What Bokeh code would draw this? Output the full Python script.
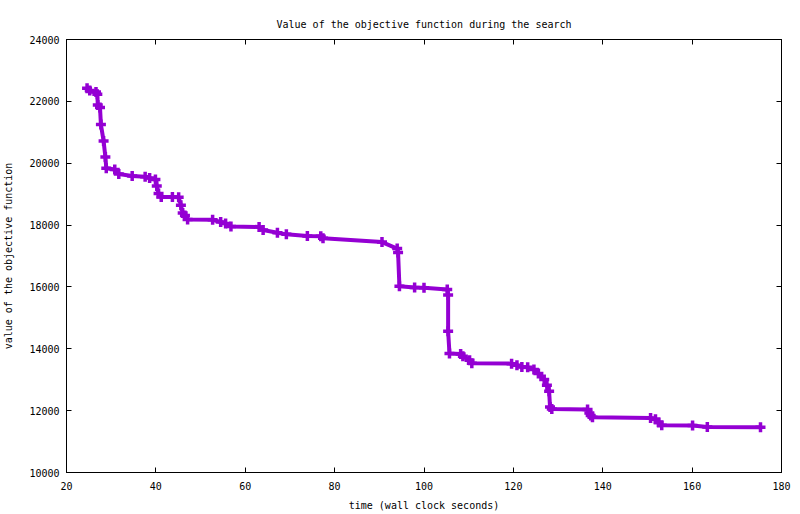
from bokeh.plotting import figure
from bokeh.models import LinearAxis, FixedTicker, Range1d, ColumnDataSource
from bokeh.embed import file_html
from bokeh.resources import INLINE

time_s = [24.6, 25.2, 26.6, 26.9, 27.0, 27.5, 27.7, 28.3, 28.7, 28.9,
          30.8, 31.7, 34.7, 37.6, 38.6, 39.9, 40.2, 40.6, 41.2, 43.7,
          45.1, 45.6, 46.0, 46.5, 47.1, 52.7, 54.5, 55.6, 56.8, 63.1,
          64.0, 67.2, 69.2, 73.9, 76.9, 77.4, 90.6, 94.0, 94.2, 94.5,
          97.9, 100.0, 105.2, 105.4, 105.4, 105.7, 108.2, 108.7, 110.2, 110.7,
          119.6, 120.8, 121.9, 123.2, 124.6, 125.6, 126.9, 127.5, 128.0, 128.2,
          128.6, 136.6, 137.0, 137.3, 137.7, 150.7, 151.8, 152.5, 153.2, 160.1,
          163.4, 175.3]
objective = [22420, 22350, 22300, 22230, 21880, 21800, 21250, 20720, 20200, 19840,
             19800, 19650, 19590, 19560, 19520, 19470, 19260, 19020, 18910, 18910,
             18900, 18640, 18390, 18310, 18180, 18170, 18100, 18050, 17950, 17940,
             17840, 17750, 17700, 17650, 17640, 17570, 17450, 17240, 17110, 16020,
             15980, 15970, 15920, 15740, 14570, 13850, 13830, 13760, 13630, 13530,
             13520, 13470, 13410, 13400, 13330, 13200, 13010, 12820, 12630, 12120,
             12050, 12040, 11920, 11840, 11790, 11760, 11720, 11620, 11530, 11520,
             11470, 11460]
x_ticks = [20, 40, 60, 80, 100, 120, 140, 160, 180]
y_ticks = [10000, 12000, 14000, 16000, 18000, 20000, 22000, 24000]

title_text = "Value of the objective function during the search"
x_label = "time (wall clock seconds)"
y_label = "value of the objective function"

FONT = "DejaVu Sans Mono"
FS = "10px"
COLOR = "#9400D3"

src = ColumnDataSource(dict(x=time_s, y=objective))

p = figure(width=800, height=514, output_backend="svg", toolbar_location=None,
           x_range=Range1d(20, 180), y_range=Range1d(10000, 24000),
           min_border_left=64, min_border_right=19, min_border_top=39,
           min_border_bottom=42, title=title_text)

p.background_fill_color = "white"
p.border_fill_color = "white"
p.outline_line_color = "black"
p.outline_line_width = 1
p.outline_line_alpha = 1
p.grid.visible = False

p.title.text_font = FONT
p.title.text_font_size = FS
p.title.text_font_style = "normal"
p.title.align = "center"
p.title.text_color = "black"
p.title.standoff = 19

def style_axis(ax, ticks, show_labels):
    ax.ticker = FixedTicker(ticks=ticks)
    ax.minor_tick_line_color = None
    ax.major_tick_in = 5
    ax.major_tick_out = 0
    ax.major_tick_line_color = "black"
    ax.axis_line_color = "black"
    ax.major_label_text_font = FONT
    ax.axis_label_text_font = FONT
    ax.axis_label_text_font_size = FS
    ax.axis_label_text_font_style = "normal"
    ax.axis_label_text_color = "black"
    if show_labels:
        ax.major_label_text_font_size = FS
        ax.major_label_text_color = "black"
    else:
        ax.major_label_text_font_size = "1px"
        ax.major_label_text_color = None
        ax.major_label_standoff = 0

xa = p.xaxis[0]
style_axis(xa, x_ticks, True)
xa.axis_label = x_label
xa.major_label_standoff = 9
xa.axis_label_standoff = 7

ya = p.yaxis[0]
style_axis(ya, y_ticks, True)
ya.axis_label = y_label
ya.major_label_standoff = 7
ya.axis_label_standoff = 12

top = LinearAxis()
style_axis(top, x_ticks, False)
p.add_layout(top, "above")
right = LinearAxis()
style_axis(right, y_ticks, False)
p.add_layout(right, "right")

p.line("x", "y", source=src, line_color=COLOR, line_width=4)
p.scatter("x", "y", source=src, marker="cross", size=10, line_color=COLOR,
          line_width=3.5)

open("out.html", "w").write(file_html(p, INLINE))
